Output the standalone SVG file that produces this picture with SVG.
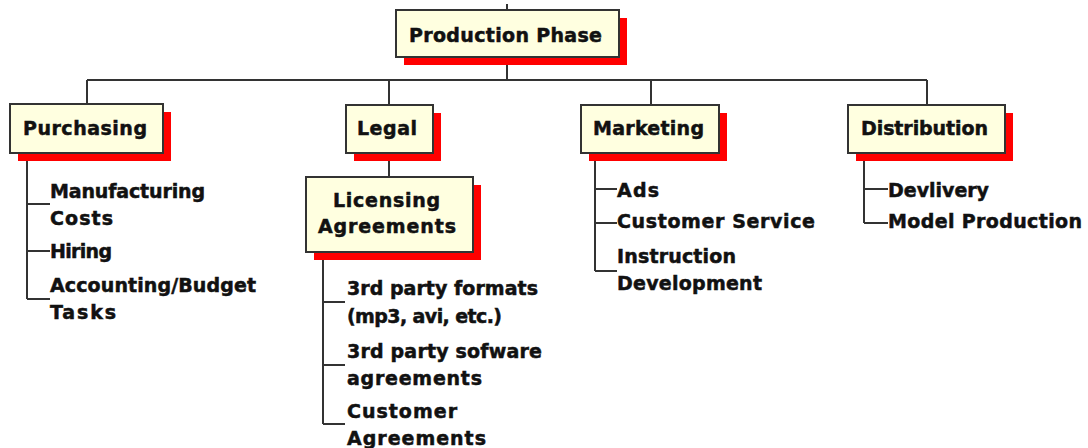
<svg xmlns="http://www.w3.org/2000/svg" width="1088" height="448" viewBox="0 0 1088 448">
  <style>
    .box { fill: #ffffe0; stroke: #333333; stroke-width: 2; }
    .shadow { fill: #ff0000; }
    .line { fill: none; stroke: #333333; stroke-width: 2; }
    text { font-family: "DejaVu Sans", "Liberation Sans", sans-serif; font-weight: bold; font-size: 19px; fill: #111111; stroke: #111111; stroke-width: 0.5; }
  </style>
  <rect width="1088" height="448" fill="#ffffff"/>

  <!-- tree connectors -->
  <g id="connectors" class="line">
    <path d="M507 4 V10"/>
    <path d="M507 57 V80 M87 80 H927"/>
    <path d="M87 80 V104 M389 80 V105 M651 80 V105 M927 80 V105"/>
    <path d="M389 153 V177"/>
    <!-- Purchasing items -->
    <path d="M27 153 V299 M27 204 H50 M27 251 H50 M27 299 H50"/>
    <!-- Licensing items -->
    <path d="M323 252 V424 M323 302 H345 M323 365 H345 M323 424 H345"/>
    <!-- Marketing items -->
    <path d="M595 153 V271 M595 189 H617 M595 223 H617 M595 271 H617"/>
    <!-- Distribution items -->
    <path d="M864 153 V223 M864 189 H888 M864 223 H888"/>
  </g>

  <g id="production-phase">
    <rect class="shadow" x="404" y="18" width="223" height="47"/>
    <rect class="box" x="396" y="10" width="223" height="47"/>
    <text x="409" y="42" textLength="193" lengthAdjust="spacing">Production Phase</text>
  </g>

  <g id="purchasing">
    <rect class="shadow" x="18" y="112" width="153" height="49"/>
    <rect class="box" x="10" y="104" width="153" height="49"/>
    <text x="23" y="135" textLength="124" lengthAdjust="spacing">Purchasing</text>
  </g>
  <g id="purchasing-items">
    <text x="50" y="198" textLength="155" lengthAdjust="spacing">Manufacturing</text>
    <text x="50" y="225" textLength="63" lengthAdjust="spacing">Costs</text>
    <text x="50" y="258" textLength="62" lengthAdjust="spacing">Hiring</text>
    <text x="50" y="292" textLength="206" lengthAdjust="spacing">Accounting/Budget</text>
    <text x="50" y="319" textLength="66" lengthAdjust="spacing">Tasks</text>
  </g>

  <g id="legal">
    <rect class="shadow" x="354" y="113" width="87" height="48"/>
    <rect class="box" x="346" y="105" width="87" height="48"/>
    <text x="357" y="135" textLength="60" lengthAdjust="spacing">Legal</text>
  </g>

  <g id="licensing-agreements">
    <rect class="shadow" x="314" y="185" width="167" height="75"/>
    <rect class="box" x="306" y="177" width="167" height="75"/>
    <text x="333" y="207" textLength="107" lengthAdjust="spacing">Licensing</text>
    <text x="318" y="233" textLength="138" lengthAdjust="spacing">Agreements</text>
  </g>
  <g id="licensing-items">
    <text x="347" y="295" textLength="191" lengthAdjust="spacing">3rd party formats</text>
    <text x="347" y="323" textLength="155" lengthAdjust="spacing">(mp3, avi, etc.)</text>
    <text x="347" y="358" textLength="195" lengthAdjust="spacing">3rd party sofware</text>
    <text x="347" y="385" textLength="135" lengthAdjust="spacing">agreements</text>
    <text x="347" y="418" textLength="110" lengthAdjust="spacing">Customer</text>
    <text x="347" y="445" textLength="139" lengthAdjust="spacing">Agreements</text>
  </g>

  <g id="marketing">
    <rect class="shadow" x="589" y="113" width="138" height="48"/>
    <rect class="box" x="581" y="105" width="138" height="48"/>
    <text x="593" y="135" textLength="111" lengthAdjust="spacing">Marketing</text>
  </g>
  <g id="marketing-items">
    <text x="617" y="197" textLength="42" lengthAdjust="spacing">Ads</text>
    <text x="617" y="228" textLength="198" lengthAdjust="spacing">Customer Service</text>
    <text x="617" y="263" textLength="119" lengthAdjust="spacing">Instruction</text>
    <text x="617" y="290" textLength="145" lengthAdjust="spacing">Development</text>
  </g>

  <g id="distribution">
    <rect class="shadow" x="856" y="113" width="157" height="48"/>
    <rect class="box" x="848" y="105" width="157" height="48"/>
    <text x="861" y="135" textLength="127" lengthAdjust="spacing">Distribution</text>
  </g>
  <g id="distribution-items">
    <text x="888" y="197" textLength="101" lengthAdjust="spacing">Devlivery</text>
    <text x="888" y="228" textLength="194" lengthAdjust="spacing">Model Production</text>
  </g>
</svg>
